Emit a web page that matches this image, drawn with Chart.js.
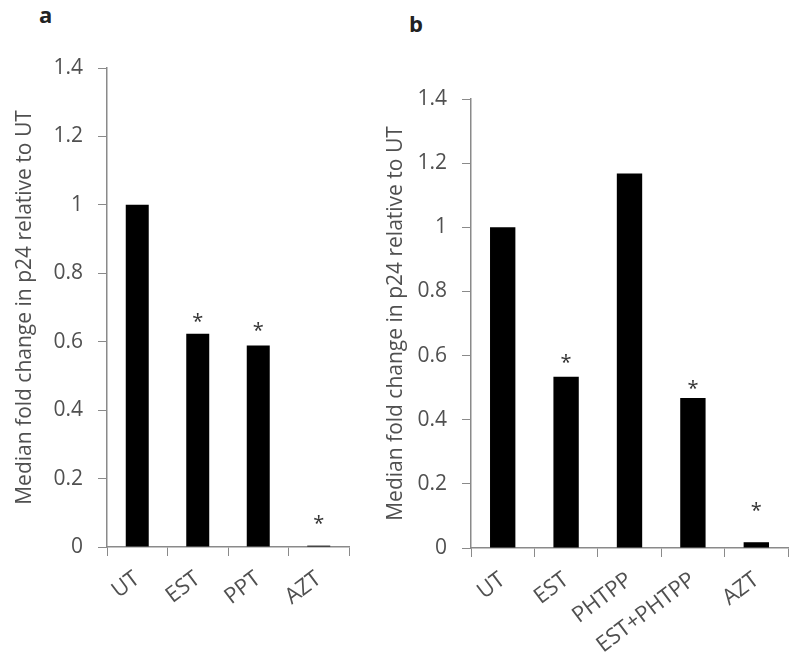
<!DOCTYPE html>
<html>
<head>
<meta charset="utf-8">
<script src="https://cdn.jsdelivr.net/npm/chart.js@4"></script>
<style>
	body { margin: 0; background: #fff; }
	#wrap { position: relative; width: 800px; height: 655px; }
	.panel { position: absolute; top: 0; height: 655px; }
	.tag { position: absolute; font: bold 22px/22px "Open Sans", sans-serif; color: #222; }
</style>
</head>
<body>
<div id="wrap">
	<div class="tag" style="left:39px;top:3px">a</div>
	<div class="tag" style="left:409px;top:12px">b</div>
	<div class="panel" style="left:0;width:380px"><canvas id="chartA" width="380" height="655"></canvas></div>
	<div class="panel" style="left:380px;width:420px"><canvas id="chartB" width="420" height="655"></canvas></div>
</div>
<script>
const labelsA = ['UT', 'EST', 'PPT', 'AZT']
const valuesA = [1.0, 0.623, 0.589, 0.004]
const starsA = [null, 0.67, 0.645, 0.082]   // height of the * mark, in axis units

const labelsB = ['UT', 'EST', 'PHTPP', 'EST+PHTPP', 'AZT']
const valuesB = [1.0, 0.534, 1.168, 0.468, 0.018]
const starsB = [null, 0.59, null, 0.51, 0.13]

const yTitle = 'Median fold change in p24 relative to UT'
const textGrey = '#505050'
const axisGrey = '#8a8a8a'
const font = '"Open Sans", sans-serif'

// draws the significance asterisks
const starPlugin = {
	id: 'stars',
	afterDatasetsDraw(chart, args, opts) {
		const ctx = chart.ctx
		const x = chart.scales.x, y = chart.scales.y
		ctx.save()
		ctx.fillStyle = '#333'
		ctx.font = `20px ${font}`
		ctx.textAlign = 'center'
		ctx.textBaseline = 'middle'
		opts.marks.forEach((v, i) => {
			if (v == null) return
			ctx.fillText('*', x.getPixelForValue(i), y.getPixelForValue(v) + 5)
		})
		ctx.restore()
	}
}

function makeChart(id, labels, values, stars, box) {
	return new Chart(id, {
		type: 'bar',
		data: {
			labels: labels,
			datasets: [{
				data: values,
				backgroundColor: '#000',
				barPercentage: box.bar,
				categoryPercentage: 1
			}]
		},
		plugins: [starPlugin],
		options: {
			responsive: false,
			animation: false,
			layout: { padding: { left: 0, top: box.top, right: box.right, bottom: 0 } },
			plugins: {
				legend: { display: false },
				tooltip: { enabled: false },
				stars: { marks: stars }
			},
			scales: {
				x: {
					afterFit: s => { s.height = box.xh },
					grid: { drawOnChartArea: false, tickLength: 9, color: axisGrey, offset: true },
					border: { color: axisGrey, width: 1.5 },
					ticks: { color: textGrey, font: { family: font, size: 22 }, maxRotation: 37, minRotation: 37, padding: 10 }
				},
				y: {
					min: 0,
					max: 1.4,
					afterFit: s => { s.width = box.yw },
					grid: { drawOnChartArea: false, tickLength: 9, color: axisGrey },
					border: { color: axisGrey, width: 1.5 },
					ticks: { stepSize: 0.2, color: textGrey, font: { family: font, size: 21 }, padding: 15,
						callback: v => String(+v.toFixed(1)) },
					title: { display: true, text: yTitle, color: textGrey, font: { family: font, size: 21 }, padding: { top: box.tp, bottom: 0 } }
				}
			}
		}
	})
}

makeChart('chartA', labelsA, valuesA, starsA, { top: 68, right: 31, xh: 108, yw: 107, bar: 0.38, tp: 12 })
makeChart('chartB', labelsB, valuesB, starsB, { top: 99, right: 12, xh: 107, yw: 91, bar: 0.40, tp: 3 })
</script>
</body>
</html>
